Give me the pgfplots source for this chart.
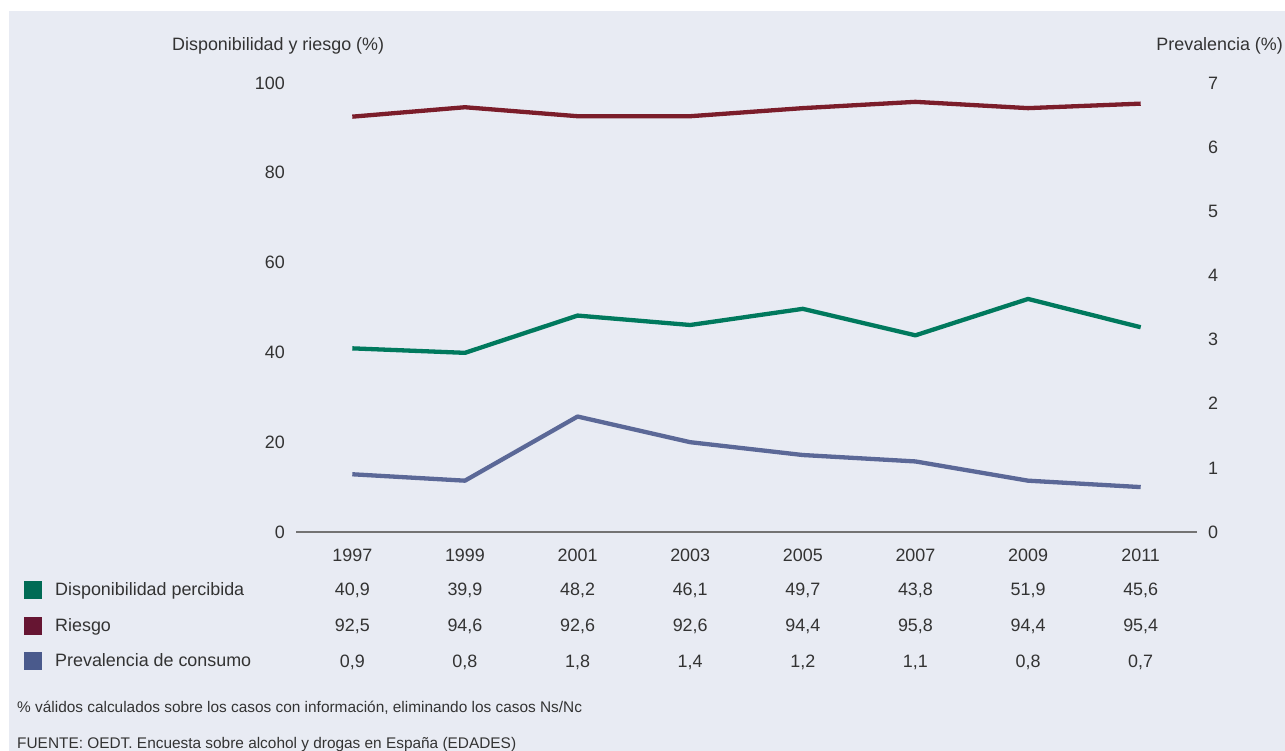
\documentclass[border=0pt]{standalone}
\usepackage{pgfplots}
\pgfplotsset{compat=1.18}
\usepackage{fontspec}
\setmainfont{Liberation Sans}
\definecolor{bg}{HTML}{E8EBF3}
\definecolor{txt}{HTML}{333333}
\definecolor{cgreen}{HTML}{00795D}
\definecolor{cred}{HTML}{7B1D2A}
\definecolor{cblue}{HTML}{5B6897}
\definecolor{sgreen}{HTML}{006B55}
\definecolor{sred}{HTML}{661532}
\definecolor{sblue}{HTML}{4A5A8C}
\pgfplotstableread{
x y label
0 -14.25 40,9
1 -14.25 39,9
2 -14.25 48,2
3 -14.25 46,1
4 -14.25 49,7
5 -14.25 43,8
6 -14.25 51,9
7 -14.25 45,6
}\rowA
\pgfplotstableread{
x y label
0 -22.27 92,5
1 -22.27 94,6
2 -22.27 92,6
3 -22.27 92,6
4 -22.27 94,4
5 -22.27 95,8
6 -22.27 94,4
7 -22.27 95,4
}\rowB
\pgfplotstableread{
x y label
0 -30.07 0,9
1 -30.07 0,8
2 -30.07 1,8
3 -30.07 1,4
4 -30.07 1,2
5 -30.07 1,1
6 -30.07 0,8
7 -30.07 0,7
}\rowC
\newcommand{\mainf}{\fontsize{17.9}{21}\selectfont}
\newcommand{\smallf}{\fontsize{15.4}{18}\selectfont}
\begin{document}
\begin{tikzpicture}[x=1pt,y=1pt]
\useasboundingbox (0,0) rectangle (1285,751);
\fill[bg] (9,0) rectangle (1285,740);
\pgfplotsset{
  common/.style={
    at={(296pt,219pt)}, anchor=south west,
    scale only axis, width=901pt, height=449pt,
    xmin=-0.5, xmax=7.5, ymin=0,
    major tick length=0pt,
    clip=false,
    /pgf/number format/assume math mode=true,
    tick label style={font=\mainf, text=txt},
  }
}
\begin{axis}[common,
  ymax=100, ytick={0,20,...,100},
  axis x line*=bottom, axis y line*=left,
  y axis line style={draw=none},
  x axis line style={draw=black!55, line width=1.3pt},
  xtick={0,...,7},
  xticklabels={1997,1999,2001,2003,2005,2007,2009,2011},
  xticklabel style={anchor=base, yshift=-30pt},
  yticklabel style={anchor=east, inner sep=0pt, xshift=-11pt},
]
\addplot[cgreen, line width=4.3pt, line join=round] coordinates {
(0,40.9) (1,39.9) (2,48.2) (3,46.1) (4,49.7) (5,43.8) (6,51.9) (7,45.6)};
\addplot[cred, line width=4.3pt, line join=round] coordinates {
(0,92.5) (1,94.6) (2,92.6) (3,92.6) (4,94.4) (5,95.8) (6,94.4) (7,95.4)};
\pgfplotsset{tablerow/.style={draw=none, mark=none, nodes near coords, point meta=explicit symbolic,
  every node near coord/.append style={anchor=base, inner sep=0pt, font=\mainf, text=txt}}}
\addplot[tablerow] table[meta=label] {\rowA};
\addplot[tablerow] table[meta=label] {\rowB};
\addplot[tablerow] table[meta=label] {\rowC};
\end{axis}
\begin{axis}[common,
  ymax=7, ytick={0,...,7},
  axis y line*=right, hide x axis,
  y axis line style={draw=none},
  yticklabel style={anchor=west, inner sep=0pt, xshift=11pt},
]
\addplot[cblue, line width=4.3pt, line join=round] coordinates {
(0,0.9) (1,0.8) (2,1.8) (3,1.4) (4,1.2) (5,1.1) (6,0.8) (7,0.7)};
\end{axis}
\begin{scope}[every node/.style={inner sep=0pt, text=txt, font=\mainf}]
\node[anchor=base west] at (172,700) {Disponibilidad y riesgo (\%)};
\node[anchor=base east] at (1283,700) {Prevalencia (\%)};
\fill[sgreen] (24,152) rectangle (42,170);
\fill[sred] (24,116) rectangle (42,134);
\fill[sblue] (24,81) rectangle (42,99);
\node[anchor=base west] at (55,155) {Disponibilidad percibida};
\node[anchor=base west] at (55,119) {Riesgo};
\node[anchor=base west] at (55,84) {Prevalencia de consumo};
\node[anchor=base west, font=\smallf] at (17,38) {\% válidos calculados sobre los casos con información, eliminando los casos Ns/Nc};
\node[anchor=base west, font=\smallf] at (17,2) {FUENTE: OEDT. Encuesta sobre alcohol y drogas en España (EDADES)};
\end{scope}
\end{tikzpicture}
\end{document}
